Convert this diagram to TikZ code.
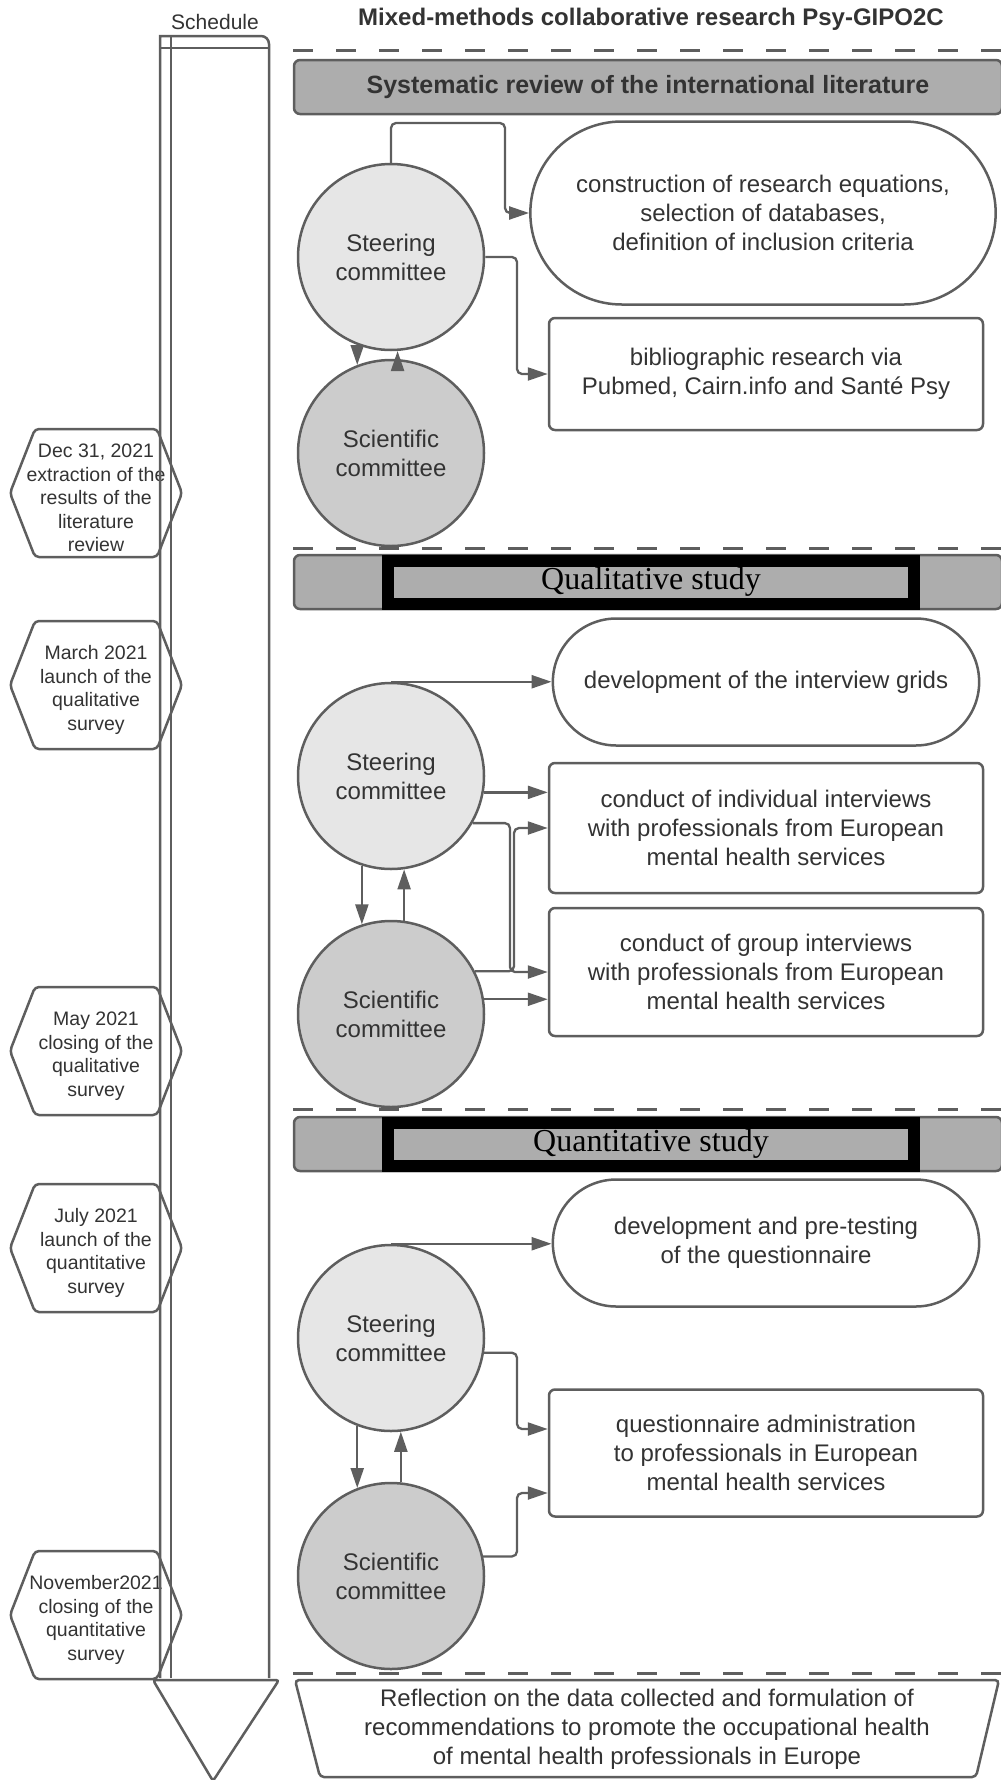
\documentclass[tikz,border=0pt]{standalone}
\usepackage{fontspec}
\setmainfont{Liberation Sans}
\newfontfamily\bandserif{Liberation Serif}
\usetikzlibrary{arrows.meta,shapes.misc}
\definecolor{ink}{HTML}{333333}
\definecolor{edge}{HTML}{5E5E5E}
\definecolor{steerfill}{HTML}{E6E6E6}
\definecolor{scifill}{HTML}{CCCCCC}
\definecolor{bandfill}{HTML}{ADADAD}
\tikzset{>={Triangle[length=20pt,width=13pt]}}
\tikzset{
  body/.style={font=\fontsize{24}{29}\selectfont, text=ink, align=center},
  steer/.style={body, circle, draw=edge, line width=2.5pt, fill=steerfill, minimum size=186pt, inner sep=0pt},
  sci/.style={steer, fill=scifill},
  task/.style={body, rectangle, rounded corners=6pt, draw=edge, line width=2.5pt, minimum width=434pt, fill=white},
  goal/.style={body, rounded rectangle, draw=edge, line width=2.5pt, minimum width=433pt, minimum height=127pt, fill=white},
  band/.style={rectangle, rounded corners=6pt, draw=edge, line width=2.5pt, fill=bandfill, minimum width=708pt, minimum height=54pt},
  studyframe/.style={rectangle, draw=black, line width=12pt, fill=bandfill, minimum width=526pt, minimum height=43pt, font=\bandserif\fontsize{32}{36}\selectfont, text=black},
  link/.style={draw=edge, line width=2.3pt, rounded corners=5pt},
  milestone/.style={font=\fontsize{19.5}{23.5}\selectfont, text=ink, align=center},
  hexline/.style={draw=edge, line width=2.5pt, rounded corners=4pt},
  partline/.style={draw=edge, line width=3pt, dash pattern=on 20pt off 23pt},
}

\begin{document}
\begin{tikzpicture}[x=1pt,y=-1pt]
  \useasboundingbox (0,0) rectangle (1001,1780);
  % headings
  \node[font=\fontsize{21}{25}\selectfont, text=ink] (sched) at (215,22) {Schedule};
  \node[font=\bfseries\fontsize{24}{28}\selectfont, text=ink] (title) at (651,19) {Mixed-methods collaborative research Psy-GIPO2C};

  % milestones
  \foreach \y/\txt [count=\i] in {493/{Dec 31, 2021\\extraction of the\\results of the\\literature\\review},
      685/{March 2021\\launch of the\\qualitative\\survey},
      1051/{May 2021\\closing of the\\qualitative\\survey},
      1248/{July 2021\\launch of the\\quantitative\\survey},
      1615/{November2021\\closing of the\\quantitative\\survey}} {
    \draw[hexline] (10,\y) -- (35,{\y-64}) -- (157,{\y-64}) -- (182,\y) -- (157,{\y+64}) -- (35,{\y+64}) -- cycle;
    \node[milestone] (mile\i) at (96,{\y+5}) {\txt};
  }

  % schedule lane
  \draw[draw=edge, line width=2.5pt] (160,1678) -- (160,36) [rounded corners=8pt] -- (269,36) [sharp corners] -- (269,1678);
  \draw[draw=edge, line width=2.5pt] (171,36) -- (171,1678);
  \draw[draw=edge, line width=2.5pt] (160,48) -- (269,48);
  \draw[draw=edge, line width=2.5pt, fill=white, rounded corners=3pt] (153,1680) -- (279,1680) -- (213,1781) -- cycle;

  % section separators
  \foreach \y in {50,548,1109,1673}
    \draw[partline] (293,\y) -- (1001,\y);

  % section headings
  \node[band, font=\bfseries\fontsize{25}{29}\selectfont, text=ink] (litband) at (648,87) {Systematic review of the international literature};
  \node[band] (qualband) at (648,582) {};
  \node[studyframe] (qualframe) at (651,582) {Qualitative study};
  \node[band] (quantband) at (648,1144) {};
  \node[studyframe] (quantframe) at (651,1144) {Quantitative study};

  % literature review
  \node[steer] (st1) at (391,257) {Steering\\committee};
  \node[sci] (sc1) at (391,453) {Scientific\\committee};
  \node[goal, minimum width=472pt, minimum height=183pt] (eqs) at (763,213) {construction of research equations,\\selection of databases,\\definition of inclusion criteria};
  \node[task, minimum height=112pt] (bib) at (766,374) {bibliographic research via\\Pubmed, Cairn.info and Santé Psy};
  \draw[link,->] (st1.north) |- (505,123) |- (eqs.west);
  \draw[link,->] (st1.east) -- (517,257) |- (bib.west);
  \draw[link,->] (st1.-111) -- (sc1.111);
  \draw[link,->] (sc1.86) -- (st1.-86);

  % qualitative study
  \node[steer] (st2) at (391,776) {Steering\\committee};
  \node[sci] (sc2) at (391,1014) {Scientific\\committee};
  \node[goal] (grids) at (766,682) {development of the interview grids};
  \node[task, minimum height=130pt] (indiv) at (766,828) {conduct of individual interviews\\with professionals from European\\mental health services};
  \node[task, minimum height=128pt] (group) at (766,972) {conduct of group interviews\\with professionals from European\\mental health services};
  \draw[link,->] (st2.north) -- (st2.north -| grids.west);
  \draw[link,->] (st2.-10) -- (st2.-10 -| indiv.west);
  \draw[link,->] (st2.-30) -| (510,972) -- (group.west);
  \draw[link,->] (sc2.27) -| (514,828) -- (indiv.west);
  \draw[link,->] (sc2.9) -- (sc2.9 -| group.west);
  \draw[link,->] (st2.-108) -- (sc2.108);
  \draw[link,->] (sc2.82) -- (st2.-82);

  % quantitative study
  \node[steer] (st3) at (391,1338) {Steering\\committee};
  \node[sci] (sc3) at (391,1576) {Scientific\\committee};
  \node[goal] (quest) at (766,1243) {development and pre-testing\\of the questionnaire};
  \node[task, minimum height=127pt] (admin) at (766,1453) {questionnaire administration\\to professionals in European\\mental health services};
  \draw[link,->] (st3.north) -- (st3.north -| quest.west);
  \draw[link,->] (st3.-9) -| (517,1429) -- ([yshift=24pt]admin.west);
  \draw[link,->] (sc3.12) -| (517,1493) -- ([yshift=-40pt]admin.west);
  \draw[link,->] (st3.-111) -- (sc3.111);
  \draw[link,->] (sc3.84) -- (st3.-84);

  % outcome
  \draw[hexline, fill=white] (295,1680) -- (999,1680) -- (976,1777) -- (320,1777) -- cycle;
  \node[body] (outcome) at (647,1729) {Reflection on the data collected and formulation of\\recommendations to promote the occupational health\\of mental health professionals in Europe};
\end{tikzpicture}
\end{document}
